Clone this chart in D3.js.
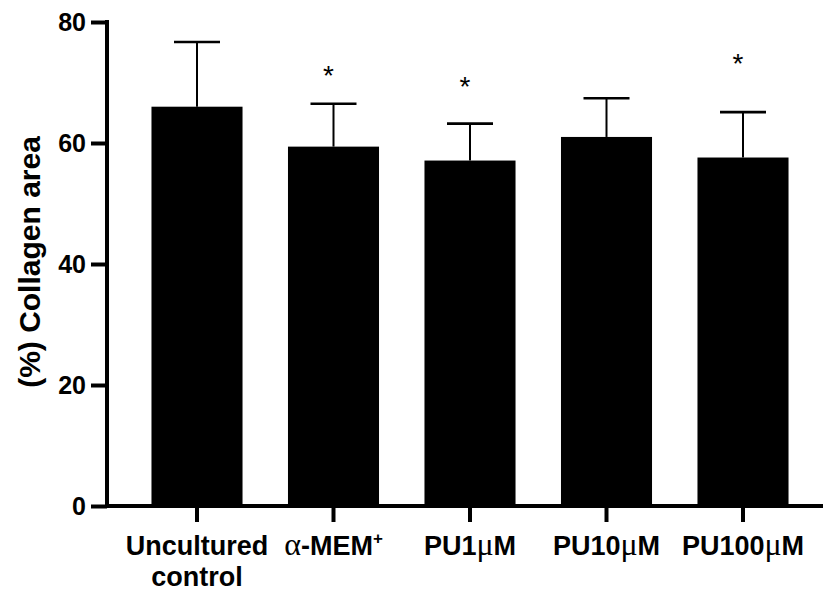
<!DOCTYPE html>
<html>
<head>
<meta charset="utf-8">
<script src="https://cdn.jsdelivr.net/npm/d3@7"></script>
<style>
  body { margin: 0; background: #fff; }
  svg { font-family: "Liberation Sans", Arial, sans-serif; }
</style>
</head>
<body>
<div id="chart"></div>
<script>
// data
const categories = ['Uncultured control', 'α-MEM+', 'PU1μM', 'PU10μM', 'PU100μM']
const means = [66.0, 59.4, 57.1, 61.0, 57.6]
const errors = [10.7, 7.1, 6.1, 6.4, 7.5]
const stars = ['', '*', '*', '', '*']
const starLevels = [null, 71.8, 69.9, null, 73.7]
const yTicks = [0, 20, 40, 60, 80]

const width = 825
const height = 592

const y = d3.scaleLinear()
  .domain([0, 80])
  .range([506, 22])

const x = d3.scaleBand()
  .domain(categories)
  .range([128.75, 811.25])
  .paddingInner(0.333)
  .paddingOuter(0.1665)

const svg = d3.select('#chart').append('svg')
  .attr('width', width)
  .attr('height', height)

// bars
svg.selectAll('.bar').data(categories)
  .enter().append('rect')
    .attr('x', (d) => x(d))
    .attr('y', (d, i) => y(means[i]))
    .attr('width', x.bandwidth())
    .attr('height', (d, i) => y(0) - y(means[i]))
    .attr('fill', '#000')

// error bars (upper only)
const err = svg.selectAll('.err').data(categories)
  .enter().append('g')
err.append('line')
  .attr('x1', (d) => x(d) + x.bandwidth() / 2)
  .attr('x2', (d) => x(d) + x.bandwidth() / 2)
  .attr('y1', (d, i) => y(means[i]))
  .attr('y2', (d, i) => y(means[i] + errors[i]))
  .attr('stroke', '#000')
  .attr('stroke-width', 2)
err.append('line')
  .attr('x1', (d) => x(d) + x.bandwidth() / 2 - 23)
  .attr('x2', (d) => x(d) + x.bandwidth() / 2 + 23)
  .attr('y1', (d, i) => y(means[i] + errors[i]))
  .attr('y2', (d, i) => y(means[i] + errors[i]))
  .attr('stroke', '#000')
  .attr('stroke-width', 2.6)

// significance stars
svg.selectAll('.star').data(categories.filter((d, i) => stars[i]))
  .enter().append('text')
    .attr('x', (d) => x(d) + x.bandwidth() / 2 - 5)
    .attr('y', (d) => y(starLevels[categories.indexOf(d)]) + 13)
    .attr('text-anchor', 'middle')
    .style('font-size', '28px')
    .text((d) => stars[categories.indexOf(d)])

// y axis
const yAxis = svg.append('g')
  .attr('transform', 'translate(107,0)')
  .call(d3.axisLeft(y).tickValues(yTicks).tickSize(16).tickSizeOuter(0).tickPadding(5))
yAxis.select('.domain').attr('stroke-width', 4).attr('d', 'M0,20V508')
yAxis.selectAll('.tick line').attr('stroke-width', 4)
yAxis.selectAll('.tick text')
  .style('font-size', '25px')
  .style('font-weight', 'bold')
  .attr('fill', '#000')
  .attr('font-family', null)

// x axis
const xAxis = svg.append('g')
  .attr('transform', 'translate(0,506)')
  .call(d3.axisBottom(x).tickSize(16).tickSizeOuter(0).tickFormat(''))
xAxis.select('.domain').attr('stroke-width', 4).attr('d', 'M105,0H823')
xAxis.selectAll('.tick line').attr('stroke-width', 4)
xAxis.selectAll('.tick text').remove()

// x labels with greek letters in serif and superscript +
const labels = svg.selectAll('.xlabel').data(categories)
  .enter().append('text')
    .attr('x', (d) => x(d) + x.bandwidth() / 2)
    .attr('y', 555)
    .attr('text-anchor', 'middle')
    .style('font-size', '27px')
    .style('font-weight', 'bold')

labels.each(function (d) {
  const t = d3.select(this)
  const lines = d.split(' ')
  lines.forEach((line, li) => {
    const runs = line.match(/[αμ]|\+|[^αμ+]+/g)
    runs.forEach((r, ri) => {
      const s = t.append('tspan').text(r)
      if (ri === 0 && li > 0) {
        s.attr('x', x(d) + x.bandwidth() / 2).attr('dy', 31)
      }
      if (/[αμ]/.test(r)) {
        s.style('font-family', '"Liberation Serif", "Times New Roman", serif')
          .style('font-weight', 'normal')
          .style('font-size', '32px')
      } else if (r === '+') {
        s.style('font-size', '17px').attr('dy', -11)
      }
    })
  })
})

// y title
svg.append('text')
  .attr('transform', 'translate(40,262) rotate(-90)')
  .attr('text-anchor', 'middle')
  .style('font-size', '30px')
  .style('font-weight', 'bold')
  .text('(%) Collagen area')
</script>
</body>
</html>
